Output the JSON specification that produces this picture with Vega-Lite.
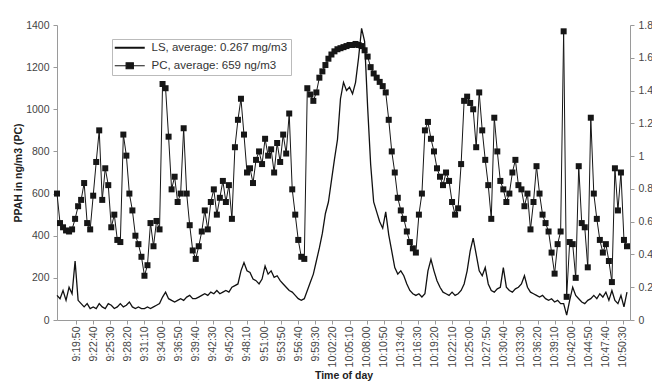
{
  "$schema": "https://vega.github.io/schema/vega-lite/v6.json",
  "width": 573,
  "height": 295,
  "autosize": {"type": "none"},
  "padding": {"left": 57, "top": 25, "right": 22, "bottom": 66},
  "background": "white",
  "config": {
    "font": "Liberation Sans",
    "view": {"stroke": null},
    "axis": {"grid": false, "domainColor": "#9a9a9a", "tickColor": "#9a9a9a", "labelColor": "#444444", "labelFontSize": 10.5, "titleFontSize": 10.5, "titleFontWeight": "bold", "titleColor": "#222222", "tickSize": 4},
    "legend": {
      "orient": "none", "legendX": 55, "legendY": 14, "title": null,
      "symbolSize": 144, "labelOffset": 25, "padding": 3, "rowPadding": 5,
      "strokeColor": "#bbbbbb", "fillColor": "#ffffff", "labelFontSize": 11.5, "labelColor": "#333333", "labelLimit": 300,
      "symbolFillColor": "#ffffff"
    }
  },
  "data": {"values": [
{"sec":33400,"pc":600,"ls":0.15},{"sec":33430,"pc":460,"ls":0.13},{"sec":33460,"pc":440,"ls":0.18},{"sec":33490,"pc":425,"ls":0.12},{"sec":33520,"pc":420,"ls":0.2},{"sec":33550,"pc":430,"ls":0.16},{"sec":33580,"pc":480,"ls":0.36},{"sec":33610,"pc":540,"ls":0.12},{"sec":33640,"pc":570,"ls":0.1},{"sec":33670,"pc":650,"ls":0.08},
{"sec":33700,"pc":460,"ls":0.1},{"sec":33730,"pc":430,"ls":0.07},{"sec":33760,"pc":590,"ls":0.08},{"sec":33790,"pc":750,"ls":0.07},{"sec":33820,"pc":900,"ls":0.1},{"sec":33850,"pc":570,"ls":0.08},{"sec":33880,"pc":720,"ls":0.07},{"sec":33910,"pc":640,"ls":0.1},{"sec":33940,"pc":440,"ls":0.09},{"sec":33970,"pc":500,"ls":0.07},
{"sec":34000,"pc":380,"ls":0.08},{"sec":34030,"pc":370,"ls":0.1},{"sec":34060,"pc":880,"ls":0.08},{"sec":34090,"pc":780,"ls":0.09},{"sec":34120,"pc":600,"ls":0.11},{"sec":34150,"pc":520,"ls":0.08},{"sec":34180,"pc":400,"ls":0.07},{"sec":34210,"pc":360,"ls":0.08},{"sec":34240,"pc":300,"ls":0.07},{"sec":34270,"pc":210,"ls":0.07},
{"sec":34300,"pc":260,"ls":0.08},{"sec":34330,"pc":460,"ls":0.07},{"sec":34360,"pc":350,"ls":0.08},{"sec":34390,"pc":470,"ls":0.09},{"sec":34420,"pc":430,"ls":0.1},{"sec":34450,"pc":1120,"ls":0.14},{"sec":34480,"pc":1100,"ls":0.17},{"sec":34510,"pc":870,"ls":0.13},{"sec":34540,"pc":620,"ls":0.12},{"sec":34570,"pc":680,"ls":0.11},
{"sec":34600,"pc":560,"ls":0.12},{"sec":34630,"pc":600,"ls":0.13},{"sec":34660,"pc":910,"ls":0.12},{"sec":34690,"pc":600,"ls":0.14},{"sec":34720,"pc":450,"ls":0.15},{"sec":34750,"pc":330,"ls":0.13},{"sec":34780,"pc":290,"ls":0.13},{"sec":34810,"pc":350,"ls":0.14},{"sec":34840,"pc":420,"ls":0.15},{"sec":34870,"pc":520,"ls":0.16},
{"sec":34900,"pc":430,"ls":0.15},{"sec":34930,"pc":560,"ls":0.17},{"sec":34960,"pc":620,"ls":0.16},{"sec":34990,"pc":500,"ls":0.18},{"sec":35020,"pc":580,"ls":0.16},{"sec":35050,"pc":660,"ls":0.17},{"sec":35080,"pc":560,"ls":0.18},{"sec":35110,"pc":640,"ls":0.17},{"sec":35140,"pc":480,"ls":0.2},{"sec":35170,"pc":820,"ls":0.21},
{"sec":35200,"pc":950,"ls":0.22},{"sec":35230,"pc":1050,"ls":0.3},{"sec":35260,"pc":880,"ls":0.35},{"sec":35290,"pc":700,"ls":0.3},{"sec":35320,"pc":720,"ls":0.29},{"sec":35350,"pc":650,"ls":0.25},{"sec":35380,"pc":760,"ls":0.24},{"sec":35410,"pc":800,"ls":0.22},{"sec":35440,"pc":740,"ls":0.25},{"sec":35470,"pc":860,"ls":0.33},
{"sec":35500,"pc":780,"ls":0.28},{"sec":35530,"pc":810,"ls":0.3},{"sec":35560,"pc":700,"ls":0.26},{"sec":35590,"pc":840,"ls":0.27},{"sec":35620,"pc":750,"ls":0.24},{"sec":35650,"pc":880,"ls":0.22},{"sec":35680,"pc":790,"ls":0.2},{"sec":35710,"pc":980,"ls":0.18},{"sec":35740,"pc":620,"ls":0.17},{"sec":35770,"pc":500,"ls":0.15},
{"sec":35800,"pc":380,"ls":0.13},{"sec":35830,"pc":300,"ls":0.12},{"sec":35860,"pc":290,"ls":0.13},{"sec":35890,"pc":1100,"ls":0.18},{"sec":35920,"pc":1070,"ls":0.23},{"sec":35950,"pc":1040,"ls":0.28},{"sec":35980,"pc":1080,"ls":0.36},{"sec":36010,"pc":1150,"ls":0.44},{"sec":36040,"pc":1180,"ls":0.53},{"sec":36070,"pc":1210,"ls":0.65},
{"sec":36100,"pc":1240,"ls":0.72},{"sec":36130,"pc":1260,"ls":0.85},{"sec":36160,"pc":1275,"ls":0.98},{"sec":36190,"pc":1285,"ls":1.1},{"sec":36220,"pc":1290,"ls":1.35},{"sec":36250,"pc":1295,"ls":1.45},{"sec":36280,"pc":1300,"ls":1.4},{"sec":36310,"pc":1305,"ls":1.42},{"sec":36340,"pc":1305,"ls":1.38},{"sec":36370,"pc":1310,"ls":1.45},
{"sec":36400,"pc":1305,"ls":1.6},{"sec":36430,"pc":1300,"ls":1.78},{"sec":36460,"pc":1280,"ls":1.7},{"sec":36490,"pc":1250,"ls":1.3},{"sec":36520,"pc":1200,"ls":0.95},{"sec":36550,"pc":1170,"ls":0.72},{"sec":36580,"pc":1150,"ls":0.66},{"sec":36610,"pc":1130,"ls":0.6},{"sec":36640,"pc":1110,"ls":0.56},{"sec":36670,"pc":1080,"ls":0.66},
{"sec":36700,"pc":950,"ls":0.52},{"sec":36730,"pc":800,"ls":0.42},{"sec":36760,"pc":700,"ls":0.32},{"sec":36790,"pc":580,"ls":0.28},{"sec":36820,"pc":520,"ls":0.3},{"sec":36850,"pc":480,"ls":0.27},{"sec":36880,"pc":420,"ls":0.22},{"sec":36910,"pc":370,"ls":0.18},{"sec":36940,"pc":340,"ls":0.16},{"sec":36970,"pc":320,"ls":0.15},
{"sec":37000,"pc":500,"ls":0.16},{"sec":37030,"pc":600,"ls":0.14},{"sec":37060,"pc":900,"ls":0.16},{"sec":37090,"pc":940,"ls":0.3},{"sec":37120,"pc":860,"ls":0.37},{"sec":37150,"pc":800,"ls":0.3},{"sec":37180,"pc":720,"ls":0.24},{"sec":37210,"pc":680,"ls":0.2},{"sec":37240,"pc":640,"ls":0.17},{"sec":37270,"pc":700,"ls":0.16},
{"sec":37300,"pc":660,"ls":0.15},{"sec":37330,"pc":560,"ls":0.17},{"sec":37360,"pc":500,"ls":0.15},{"sec":37390,"pc":530,"ls":0.16},{"sec":37420,"pc":740,"ls":0.18},{"sec":37450,"pc":1040,"ls":0.22},{"sec":37480,"pc":1060,"ls":0.3},{"sec":37510,"pc":1030,"ls":0.42},{"sec":37540,"pc":1000,"ls":0.5},{"sec":37570,"pc":820,"ls":0.4},
{"sec":37600,"pc":1080,"ls":0.3},{"sec":37630,"pc":900,"ls":0.27},{"sec":37660,"pc":760,"ls":0.32},{"sec":37690,"pc":640,"ls":0.22},{"sec":37720,"pc":480,"ls":0.18},{"sec":37750,"pc":960,"ls":0.17},{"sec":37780,"pc":800,"ls":0.19},{"sec":37810,"pc":660,"ls":0.2},{"sec":37840,"pc":620,"ls":0.32},{"sec":37870,"pc":560,"ls":0.2},
{"sec":37900,"pc":600,"ls":0.18},{"sec":37930,"pc":700,"ls":0.17},{"sec":37960,"pc":760,"ls":0.19},{"sec":37990,"pc":640,"ls":0.2},{"sec":38020,"pc":620,"ls":0.22},{"sec":38050,"pc":540,"ls":0.27},{"sec":38080,"pc":600,"ls":0.2},{"sec":38110,"pc":430,"ls":0.17},{"sec":38140,"pc":560,"ls":0.16},{"sec":38170,"pc":730,"ls":0.15},
{"sec":38200,"pc":600,"ls":0.14},{"sec":38230,"pc":500,"ls":0.15},{"sec":38260,"pc":460,"ls":0.13},{"sec":38290,"pc":420,"ls":0.12},{"sec":38320,"pc":320,"ls":0.13},{"sec":38350,"pc":220,"ls":0.11},{"sec":38380,"pc":360,"ls":0.12},{"sec":38410,"pc":420,"ls":0.1},{"sec":38440,"pc":1370,"ls":0.1},{"sec":38470,"pc":110,"ls":0.03},
{"sec":38500,"pc":370,"ls":0.12},{"sec":38530,"pc":360,"ls":0.2},{"sec":38560,"pc":200,"ls":0.15},{"sec":38590,"pc":730,"ls":0.13},{"sec":38620,"pc":460,"ls":0.11},{"sec":38650,"pc":440,"ls":0.1},{"sec":38680,"pc":250,"ls":0.12},{"sec":38710,"pc":960,"ls":0.13},{"sec":38740,"pc":600,"ls":0.15},{"sec":38770,"pc":480,"ls":0.13},
{"sec":38800,"pc":380,"ls":0.16},{"sec":38830,"pc":320,"ls":0.14},{"sec":38860,"pc":360,"ls":0.17},{"sec":38890,"pc":280,"ls":0.12},{"sec":38920,"pc":180,"ls":0.18},{"sec":38950,"pc":720,"ls":0.12},{"sec":38980,"pc":520,"ls":0.1},{"sec":39010,"pc":700,"ls":0.15},{"sec":39040,"pc":380,"ls":0.08},{"sec":39070,"pc":350,"ls":0.17}
  ]},
  "encoding": {
    "x": {
      "field": "sec", "type": "quantitative", "title": "Time of day",
      "scale": {"domain": [33400, 39100], "nice": false, "zero": false},
      "axis": {
        "values": [33590,33760,33930,34100,34270,34440,34610,34780,34950,35120,35290,35460,35630,35800,35970,36140,36310,36480,36650,36820,36990,37160,37330,37500,37670,37840,38010,38180,38350,38520,38690,38860,39030],
        "labelExpr": "utcFormat(datum.value * 1000, '%-H:%M:%S')",
        "labelAngle": 270, "labelPadding": 2, "titlePadding": 4, "labelOverlap": false
      }
    }
  },
  "layer": [
    {
      "mark": {"type": "line", "strokeWidth": 1, "point": {"shape": "square", "size": 36, "filled": true, "opacity": 1}},
      "encoding": {
        "y": {"field": "pc", "type": "quantitative", "title": "PPAH in ng/m3 (PC)",
          "scale": {"domain": [0, 1400], "nice": false},
          "axis": {"orient": "left", "values": [0,200,400,600,800,1000,1200,1400], "format": "d", "labelPadding": 4, "titlePadding": 2}},
        "color": {"datum": "PC, average: 659 ng/m3", "type": "nominal",
          "scale": {"domain": ["LS, average: 0.267 mg/m3", "PC, average: 659 ng/m3"], "range": ["#111111", "#161616"]},
          "legend": {
            "encode": {
              "symbols": {"update": {
              "shape": {"signal": "datum.value === 'LS, average: 0.267 mg/m3' ? 'M-1,0H4' : 'M-1,0H0.9M2.1,0H4M0.9,-0.5H2.1V0.5H0.9Z'"},
              "stroke": {"signal": "datum.value === 'LS, average: 0.267 mg/m3' ? '#5a1f35' : '#333333'"},
              "strokeWidth": {"signal": "datum.value === 'LS, average: 0.267 mg/m3' ? 2 : 1.2"},
              "size": {"value": 144},
              "opacity": {"value": 1}
            }}}
          }}
      }
    },
    {
      "mark": {"type": "line", "strokeWidth": 1.3},
      "encoding": {
        "y": {"field": "ls", "type": "quantitative", "title": null,
          "scale": {"domain": [0, 1.8], "nice": false},
          "axis": {"orient": "right", "values": [0,0.2,0.4,0.6,0.8,1,1.2,1.4,1.6,1.8], "format": ".1~f", "labelPadding": 4}},
        "color": {"datum": "LS, average: 0.267 mg/m3", "type": "nominal"}
      }
    }
  ],
  "resolve": {"scale": {"y": "independent"}}
}
